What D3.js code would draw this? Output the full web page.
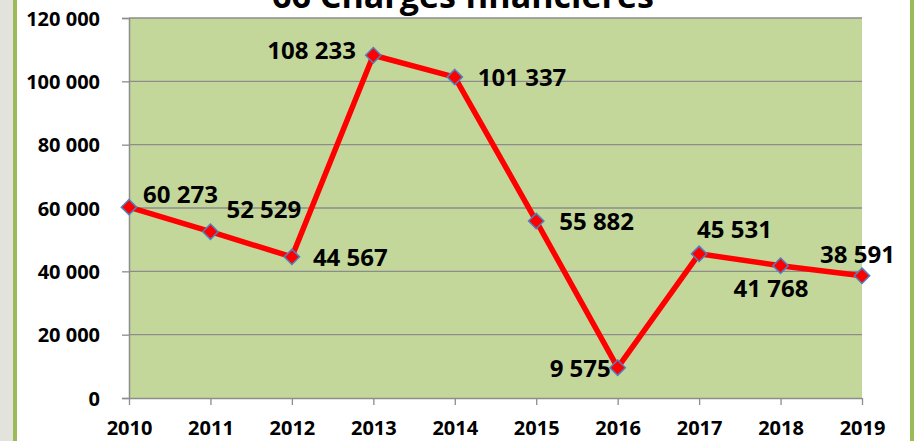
<!DOCTYPE html>
<html>
<head>
<meta charset="utf-8">
<script src="https://cdn.jsdelivr.net/npm/d3@7"></script>
<style>
  html, body { margin: 0; padding: 0; background: #fff; }
  svg { display: block; }
  text { font-family: "Open Sans", "Liberation Sans", sans-serif; font-weight: bold; fill: #000; }
</style>
</head>
<body>
<svg id="chart" width="914" height="441"></svg>
<script>
// chart data
const years = ['2010', '2011', '2012', '2013', '2014', '2015', '2016', '2017', '2018', '2019'];
const charges = [60273, 52529, 44567, 108233, 101337, 55882, 9575, 45531, 41768, 38591];
const yTicks = [0, 20000, 40000, 60000, 80000, 100000, 120000];
const title = '66 Charges financières';

// where each value label sits relative to its point (px)
const labelDx = [14, 16, 21, -106, 23, 23, -68, -2, -47, -42];
const labelDy = [-4, -14, 9, 4, 9, 9, 9, -16, 31, -13];

const width = 914, height = 441;
const plot = {left: 129, right: 862, top: 18, bottom: 398};

const svg = d3.select('#chart');

// frame: grey strip and green rules on the sides
svg.append('rect').attr('x', 0).attr('y', 0).attr('width', 13).attr('height', height).attr('fill', '#e3e3dd');
svg.append('rect').attr('x', 13).attr('y', 0).attr('width', 4).attr('height', height).attr('fill', '#9bbb59');
svg.append('rect').attr('x', 910).attr('y', 0).attr('width', 4).attr('height', height).attr('fill', '#9bbb59');

const x = d3.scalePoint().domain(years).range([plot.left, plot.right]);
const y = d3.scaleLinear().domain([0, 120000]).range([plot.bottom, plot.top]);

const fmt = v => d3.format(',')(v).replace(/,/g, ' ');

// plot area
svg.append('rect')
    .attr('x', plot.left).attr('y', plot.top)
    .attr('width', plot.right - plot.left).attr('height', plot.bottom - plot.top)
    .attr('fill', '#c4d79b');

// horizontal grid
svg.append('g')
    .selectAll('line')
    .data(yTicks.filter(d => d > 0))
    .join('line')
    .attr('x1', plot.left).attr('x2', plot.right)
    .attr('y1', d => y(d)).attr('y2', d => y(d))
    .attr('stroke', '#8c8c8c').attr('stroke-width', 1.3);

// y axis
const yAxis = svg.append('g')
    .attr('transform', 'translate(' + plot.left + ',0)')
    .call(d3.axisLeft(y).tickValues(yTicks).tickFormat(fmt).tickSize(7).tickPadding(22));
yAxis.select('.domain').attr('stroke', '#8c8c8c').attr('stroke-width', 1.5);
yAxis.selectAll('.tick line').attr('stroke', '#8c8c8c').attr('stroke-width', 1.3);
yAxis.selectAll('.tick text').style('font-size', '20px').attr('dy', '0.36em');

// x axis
const xAxis = svg.append('g')
    .attr('transform', 'translate(0,' + plot.bottom + ')')
    .call(d3.axisBottom(x).tickSize(7).tickSizeOuter(0));
xAxis.select('.domain').attr('stroke', '#8c8c8c').attr('stroke-width', 1.5);
xAxis.selectAll('.tick line').attr('stroke', '#8c8c8c').attr('stroke-width', 1.3);
xAxis.selectAll('.tick text').style('font-size', '20px').attr('y', 37).attr('dy', 0);

// series line
const pts = years.map((yr, i) => ({year: yr, value: charges[i], i: i}));
svg.append('path')
    .datum(pts)
    .attr('fill', 'none')
    .attr('stroke', '#ff0000')
    .attr('stroke-width', 5.5)
    .attr('stroke-linejoin', 'round')
    .attr('d', d3.line().x(d => x(d.year)).y(d => y(d.value)));

// diamond markers
svg.append('g')
    .selectAll('path')
    .data(pts)
    .join('path')
    .attr('transform', d => 'translate(' + x(d.year) + ',' + y(d.value) + ')')
    .attr('d', d3.symbol().type(d3.symbolDiamond2).size(150))
    .attr('fill', '#ff0000')
    .attr('stroke', '#4f81bd')
    .attr('stroke-width', 1.5);

// value labels
svg.append('g')
    .selectAll('text')
    .data(pts)
    .join('text')
    .attr('x', d => x(d.year) + labelDx[d.i])
    .attr('y', d => y(d.value) + labelDy[d.i])
    .style('font-size', '24px')
    .text(d => fmt(d.value));

// title (cut off at the top edge, as in the original)
svg.append('text')
    .attr('x', 463).attr('y', 8)
    .attr('text-anchor', 'middle')
    .style('font-size', '34px')
    .text(title);
</script>
</body>
</html>
